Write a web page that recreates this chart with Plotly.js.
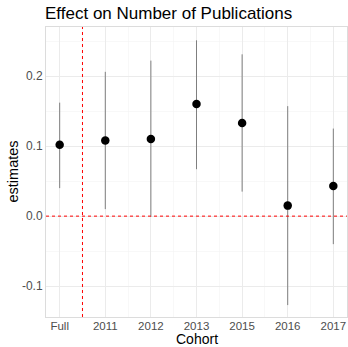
<!DOCTYPE html>
<html>
<head>
<meta charset="utf-8">
<script src="https://cdn.plot.ly/plotly-3.0.1.min.js"></script>
<style>html,body{margin:0;padding:0;background:#fff;}#chart{width:348px;height:347px;}</style>
</head>
<body>
<div id="chart"></div>
<script>
const cohorts = ["Full", "2011", "2012", "2013", "2015", "2016", "2017"];
const estimates = [0.102, 0.108, 0.110, 0.160, 0.133, 0.015, 0.043];
const upper = [0.162, 0.206, 0.222, 0.251, 0.231, 0.157, 0.125];
const lower = [0.040, 0.010, -0.001, 0.067, 0.035, -0.127, -0.040];
const yTicks = [-0.1, 0.0, 0.1, 0.2];
const yTickLabels = ["-0.1", "0.0", "0.1", "0.2"];

const xPos = cohorts.map((c, i) => i);

const traces = [{
  type: "scatter",
  mode: "markers",
  x: xPos,
  y: estimates,
  marker: {color: "#000000", size: 8.5},
  error_y: {
    type: "data",
    symmetric: false,
    array: upper.map((u, i) => u - estimates[i]),
    arrayminus: estimates.map((e, i) => e - lower[i]),
    width: 0,
    thickness: 1,
    color: "#7f7f7f"
  },
  hoverinfo: "none"
}];

const plotLeft = 46, plotBottomMargin = 30, plotW = 348 - 46 - 1, plotH = 347 - 27 - 30;

const layout = {
  width: 348, height: 347,
  margin: {l: plotLeft, r: 1, t: 27, b: plotBottomMargin},
  paper_bgcolor: "#ffffff",
  plot_bgcolor: "#ffffff",
  showlegend: false,
  font: {family: "Liberation Sans, Arial, sans-serif", color: "#4d4d4d", size: 12},
  title: {
    text: "Effect on Number of Publications",
    font: {size: 17, color: "#000000"},
    x: 45 / 348, xref: "container", xanchor: "left",
    y: 1 - 13 / 347, yref: "container", yanchor: "middle"
  },
  xaxis: {
    range: [-0.3, 6.3],
    tickmode: "array",
    tickvals: xPos,
    ticktext: cohorts,
    showgrid: true, gridcolor: "#ebebeb", gridwidth: 1,
    minor: {tickmode: "linear", tick0: 0.5, dtick: 1, showgrid: true, gridcolor: "#f3f3f3", gridwidth: 0.6},
    zeroline: false,
    showline: true, mirror: true, linecolor: "#dcdcdc", linewidth: 1,
    ticks: "", ticklen: 0, ticklabelstandoff: -2,
    tickfont: {size: 11.5, color: "#4d4d4d"}
  },
  yaxis: {
    range: [-0.144, 0.27],
    tickmode: "array",
    tickvals: yTicks,
    ticktext: yTickLabels,
    showgrid: true, gridcolor: "#ebebeb", gridwidth: 1,
    minor: {tickmode: "linear", tick0: -0.05, dtick: 0.1, showgrid: true, gridcolor: "#f3f3f3", gridwidth: 0.6},
    zeroline: false,
    showline: true, mirror: true, linecolor: "#dcdcdc", linewidth: 1,
    ticks: "", ticklen: 0,
    tickfont: {size: 12, color: "#4d4d4d"}
  },
  annotations: [
    {text: "Cohort", xref: "paper", yref: "paper", x: 0.5, y: -22 / plotH,
     xanchor: "center", yanchor: "middle", showarrow: false, borderpad: 0,
     font: {size: 14, color: "#000000"}},
    {text: "estimates", xref: "paper", yref: "paper", x: (12.5 - plotLeft) / plotW, y: 0.5,
     xanchor: "center", yanchor: "middle", showarrow: false, textangle: -90, borderpad: 0,
     font: {size: 14.5, color: "#000000"}}
  ],
  shapes: [
    {type: "line", xref: "paper", x0: 0, x1: 1, yref: "y", y0: 0, y1: 0,
     line: {color: "#ff0000", width: 1, dash: "dot"}, layer: "above"},
    {type: "line", xref: "x", x0: 0.5, x1: 0.5, yref: "paper", y0: 0, y1: 1,
     line: {color: "#ff0000", width: 1, dash: "dot"}, layer: "above"}
  ]
};

Plotly.newPlot("chart", traces, layout, {staticPlot: true, displayModeBar: false});
</script>
</body>
</html>
